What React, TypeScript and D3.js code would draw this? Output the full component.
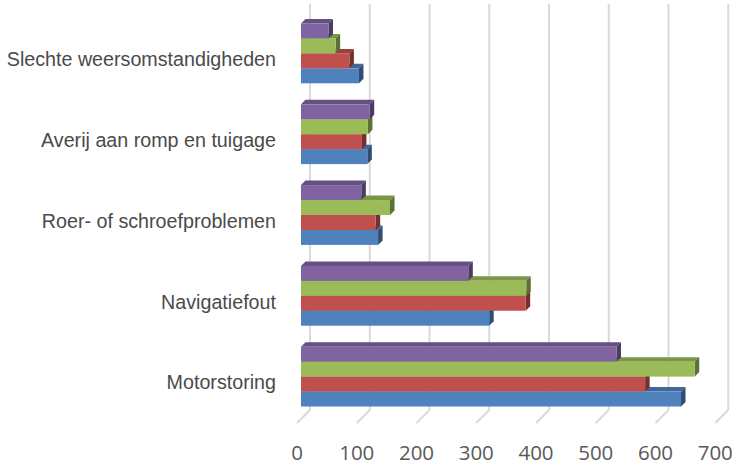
import React from "react";
import * as d3 from "d3";

const categories = [
  "Slechte weersomstandigheden",
  "Averij aan romp en tuigage",
  "Roer- of schroefproblemen",
  "Navigatiefout",
  "Motorstoring",
];
// series drawn bottom (blue) to top (purple) within each group
const seriesNames = ["Serie 1", "Serie 2", "Serie 3", "Serie 4"];
const serie1 = [97, 111, 129, 315, 636]; // blue
const serie2 = [81, 102, 125, 376, 576]; // red
const serie3 = [58, 112, 149, 377, 659]; // green
const serie4 = [46, 115, 101, 280, 528]; // purple
const tickValues = [0, 100, 200, 300, 400, 500, 600, 700];

const front = ["#4F81BD", "#C0504D", "#9BBB59", "#8064A2"];
const topC = ["#3F6797", "#9A403E", "#7C9647", "#665082"];
const sideC = ["#2F4D71", "#73302E", "#5D7035", "#4C3C61"];

const W = 733;
const H = 466;
const DEPTH = 13; // floor depth (oblique)
const BOFF = 4; // bar front offset into depth
const BD = 4.5; // bar depth

export default function App() {
  const x = d3.scaleLinear().domain([0, 700]).range([297, 297 + 418.25]);
  const y = d3
    .scaleBand<string>()
    .domain(categories)
    .range([17, 421])
    .paddingInner(0.26)
    .paddingOuter(0.13);
  // top to bottom order: purple, green, red, blue
  const sy = d3
    .scaleBand<string>()
    .domain([...seriesNames].reverse())
    .range([0, y.bandwidth()]);
  const allSeries = [serie1, serie2, serie3, serie4];
  const floorY = 423;

  return (
    <svg
      width={W}
      height={H}
      style={{ position: "absolute", left: 0, top: 0, background: "#fff" }}
    >
      {tickValues.map((t) => (
        <g key={"g" + t}>
          <line
            x1={x(t) + DEPTH}
            x2={x(t) + DEPTH}
            y1={y.range()[0] - DEPTH}
            y2={floorY - DEPTH}
            stroke="#D9D9D9"
            strokeWidth={2}
          />
          <line
            x1={x(t)}
            y1={floorY}
            x2={x(t) + DEPTH}
            y2={floorY - DEPTH}
            stroke="#D9D9D9"
            strokeWidth={2}
          />
          <text
            x={x(t)}
            y={460}
            textAnchor="middle"
            fontFamily="'Open Sans', sans-serif"
            fontSize={20.5}
            fill="#595959"
          >
            {t}
          </text>
        </g>
      ))}
      {categories.map((c, ci) => (
        <g key={c}>
          {allSeries.map((s, si) => {
            const x0 = x(0) + BOFF;
            const x1 = x(s[ci]) + BOFF;
            const y0 = (y(c) as number) + (sy(seriesNames[si]) as number) - BOFF;
            const h = sy.bandwidth();
            const y1 = y0 + h;
            return (
              <g key={si}>
                <polygon
                  points={`${x0},${y0} ${x0 + BD},${y0 - BD} ${x1 + BD},${y0 - BD} ${x1},${y0}`}
                  fill={topC[si]}
                />
                <polygon
                  points={`${x1},${y0} ${x1 + BD},${y0 - BD} ${x1 + BD},${y1 - BD} ${x1},${y1}`}
                  fill={sideC[si]}
                />
                <rect x={x0} y={y0} width={x1 - x0} height={h} fill={front[si]} />
              </g>
            );
          })}
          <text
            x={276}
            y={(y(c) as number) + y.bandwidth() / 2 + 8.7}
            textAnchor="end"
            fontFamily="'Liberation Sans', Arial, sans-serif"
            fontSize={19.7}
            fill="#4A4A4A"
          >
            {c}
          </text>
        </g>
      ))}
    </svg>
  );
}
